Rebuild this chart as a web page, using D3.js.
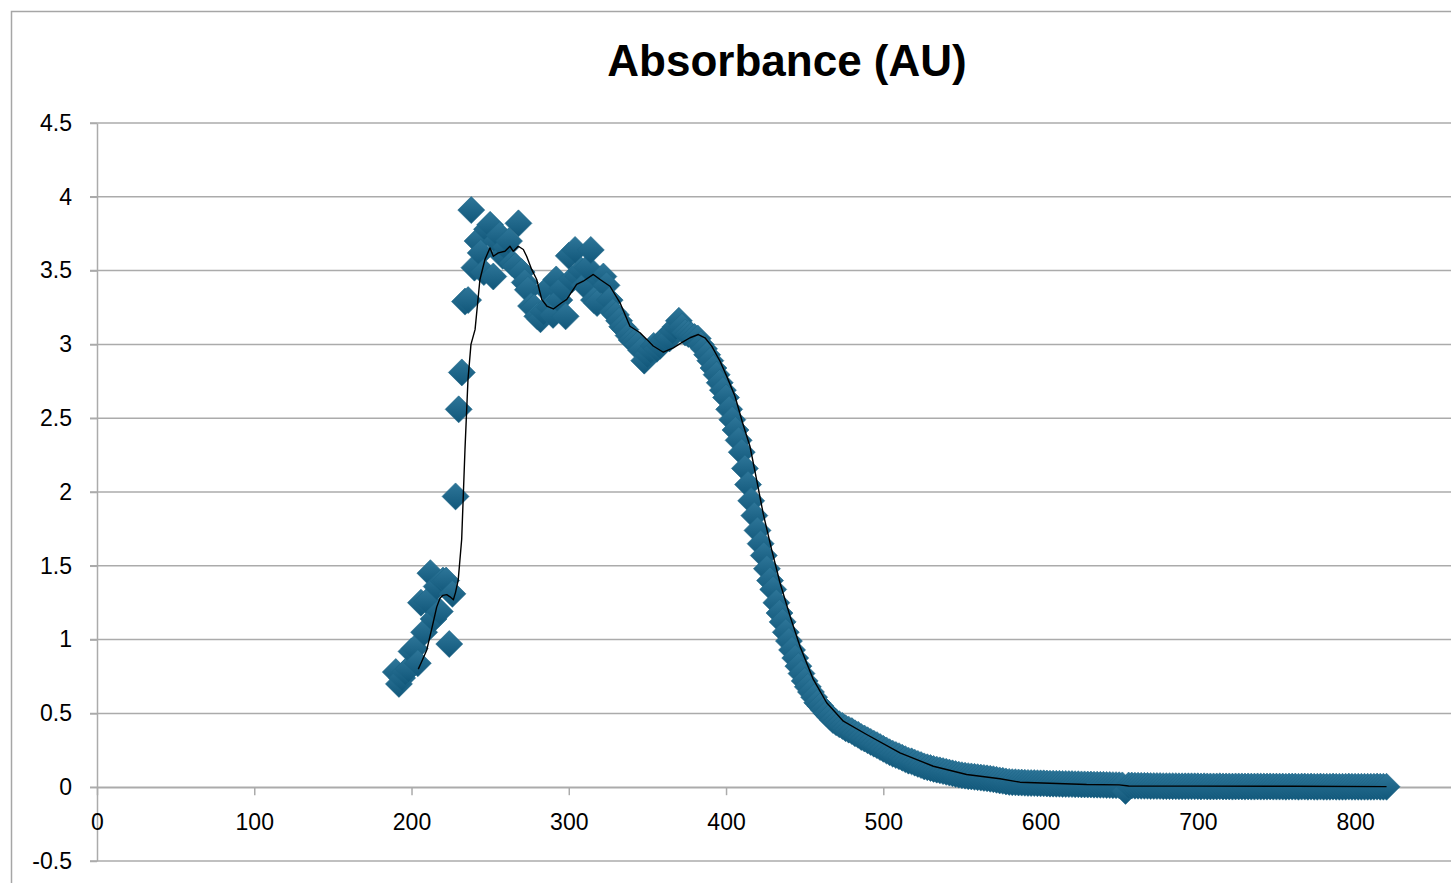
<!doctype html>
<html lang="en">
<head>
  <meta charset="utf-8">
  <title>Absorbance (AU)</title>
  <style>
    body {
      margin: 0;
      background: #fff;
    }

    #chart {
      width: 1451px;
      height: 883px;
      overflow: hidden;
    }

    text {
      font-family: "Liberation Sans", Arial, sans-serif;
    }

    .grid line {
      stroke: #ababab;
      stroke-width: 1.5;
    }

    .axis path,
    .axis line {
      stroke: #ababab;
      stroke-width: 1.5;
    }

    .axis text {
      font-size: 23px;
      fill: #000;
    }
  </style>
</head>

<body>
  <div id="chart"></div>

  <script src="https://d3js.org/d3.v7.min.js"></script>
  <script>
    // wavelength (nm) of each measured point
    const wavelength = [
      190, 192, 194, 196, 198, 200, 202, 204, 206, 208,
      210, 212, 214, 216, 218, 220, 222, 224, 226, 228,
      230, 232, 234, 236, 238, 240, 242, 244, 246, 248,
      250, 252, 254, 256, 258, 260, 262, 264, 266, 268,
      270, 272, 274, 276, 278, 280, 282, 284, 286, 288,
      290, 292, 294, 296, 298, 300, 302, 304, 306, 308,
      310, 312, 314, 316, 318, 320, 322, 324, 326, 328,
      330, 332, 334, 336, 338, 340, 342, 344, 346, 348,
      350, 352, 354, 356, 358, 360, 362, 364, 366, 368,
      370, 372, 374, 376, 378, 380, 382, 384, 386, 388,
      390, 392, 394, 396, 398, 400, 402, 404, 406, 408,
      410, 412, 414, 416, 418, 420, 422, 424, 426, 428,
      430, 432, 434, 436, 438, 440, 442, 444, 446, 448,
      450, 452, 454, 456, 458, 460, 462, 464, 466, 468,
      470, 472, 474, 476, 478, 480, 482, 484, 486, 488,
      490, 492, 494, 496, 498, 500, 502, 504, 506, 508,
      510, 512, 514, 516, 518, 520, 522, 524, 526, 528,
      530, 532, 534, 536, 538, 540, 542, 544, 546, 548,
      550, 552, 554, 556, 558, 560, 562, 564, 566, 568,
      570, 572, 574, 576, 578, 580, 582, 584, 586, 588,
      590, 592, 594, 596, 598, 600, 602, 604, 606, 608,
      610, 612, 614, 616, 618, 620, 622, 624, 626, 628,
      630, 632, 634, 636, 638, 640, 642, 644, 646, 648,
      650, 652, 654, 656, 658, 660, 662, 664, 666, 668,
      670, 672, 674, 676, 678, 680, 682, 684, 686, 688,
      690, 692, 694, 696, 698, 700, 702, 704, 706, 708,
      710, 712, 714, 716, 718, 720, 722, 724, 726, 728,
      730, 732, 734, 736, 738, 740, 742, 744, 746, 748,
      750, 752, 754, 756, 758, 760, 762, 764, 766, 768,
      770, 772, 774, 776, 778, 780, 782, 784, 786, 788,
      790, 792, 794, 796, 798, 800, 802, 804, 806, 808,
      810, 812, 814, 816, 818, 820
    ];

    // absorbance (AU)
    const absorbance = [
      0.78, 0.70, 0.74, 0.78, 0.80, 0.92, 0.94, 0.84, 1.25, 1.05,
      1.26, 1.45, 1.14, 1.36, 1.19, 1.40, 1.40, 0.97, 1.31, 1.97,
      2.56, 2.81, 3.29, 3.30, 3.91, 3.52, 3.70, 3.62, 3.49, 3.78,
      3.81, 3.46, 3.70, 3.74, 3.60, 3.66, 3.70, 3.55, 3.53, 3.82,
      3.49, 3.42, 3.37, 3.26, 3.25, 3.19, 3.17, 3.22, 3.37, 3.25,
      3.20, 3.44, 3.30, 3.38, 3.19, 3.60, 3.44, 3.64, 3.46, 3.50,
      3.40, 3.52, 3.64, 3.30, 3.28, 3.44, 3.46, 3.40, 3.30, 3.22,
      3.20, 3.16, 3.12, 3.10, 3.06, 3.03, 3.02, 3.00, 2.96, 2.89,
      2.93, 2.96, 2.99, 2.97, 2.99, 3.03, 3.05, 3.04, 3.09, 3.12,
      3.16, 3.12, 3.08, 3.07, 3.06, 3.05, 3.04, 3.00, 2.97, 2.93,
      2.89, 2.84, 2.795, 2.74, 2.69, 2.64, 2.56, 2.49, 2.42, 2.35,
      2.27, 2.16, 2.05, 1.94, 1.84, 1.74, 1.65, 1.57, 1.48, 1.40,
      1.34, 1.25, 1.18, 1.12, 1.05, 0.99, 0.93, 0.875, 0.82, 0.77,
      0.72, 0.68, 0.645, 0.61, 0.572, 0.55, 0.525, 0.50, 0.478, 0.455,
      0.44, 0.427, 0.415, 0.40, 0.39, 0.38, 0.365, 0.355, 0.34, 0.33,
      0.318, 0.307, 0.295, 0.285, 0.272, 0.26, 0.249, 0.237, 0.227, 0.218,
      0.21, 0.20, 0.19, 0.18, 0.175, 0.166, 0.158, 0.15, 0.141, 0.135,
      0.13, 0.124, 0.119, 0.114, 0.109, 0.104, 0.099, 0.094, 0.089, 0.085,
      0.081, 0.078, 0.075, 0.073, 0.07, 0.068, 0.065, 0.063, 0.06, 0.057,
      0.054, 0.05, 0.046, 0.043, 0.039, 0.036, 0.034, 0.033, 0.032, 0.031,
      0.030, 0.029, 0.028, 0.028, 0.027, 0.026, 0.026, 0.025, 0.024, 0.024,
      0.023, 0.023, 0.022, 0.022, 0.021, 0.021, 0.020, 0.020, 0.019, 0.019,
      0.018, 0.018, 0.017, 0.017, 0.016, 0.016, 0.015, 0.015, 0.014, 0.014,
      0.013, 0.012, -0.025, 0.011, 0.011, 0.010, 0.010, 0.009, 0.009, 0.009,
      0.008, 0.008, 0.008, 0.008, 0.007, 0.007, 0.007, 0.007, 0.007, 0.006,
      0.006, 0.006, 0.006, 0.006, 0.006, 0.006, 0.005, 0.006, 0.005, 0.005,
      0.005, 0.005, 0.006, 0.005, 0.005, 0.005, 0.004, 0.005, 0.005, 0.005,
      0.004, 0.005, 0.004, 0.004, 0.005, 0.004, 0.004, 0.004, 0.005, 0.004,
      0.004, 0.004, 0.004, 0.003, 0.004, 0.004, 0.004, 0.003, 0.004, 0.004,
      0.003, 0.004, 0.003, 0.003, 0.004, 0.003, 0.003, 0.003, 0.004, 0.003,
      0.003, 0.003, 0.003, 0.004, 0.003, 0.003, 0.003, 0.003, 0.003, 0.003,
      0.003, 0.003, 0.004, 0.003, 0.003, 0.003
    ];

    // moving average trendline (black line)
    const trendWavelength = [
      204.3, 206, 209.7, 213, 216, 218.1, 220, 222.4, 224.5, 226.6,
      228, 229.7, 231.9, 234, 235.9, 237.8, 240.4, 243.5, 246.7, 249.9,
      252, 255.2, 259.4, 262.6, 264.7, 267.9, 271.1, 273.2, 276.4, 279.6,
      282.8, 286, 290.2, 295.5, 298.7, 305, 309.2, 315.6, 319.9, 326.2,
      332.6, 338.9, 345.3, 349.6, 353.7, 360.1, 366.5, 371.8, 377.1, 382.4,
      386.6, 390.9, 396.2, 400.4, 405.7, 410.5, 415.2, 419.5, 423.7, 429,
      434.3, 440.7, 447, 455.5, 464, 474.6, 489.4, 510.6, 531.8, 553,
      574.2, 586.9, 629.3, 650, 656, 700, 760, 820
    ];
    const trendAbsorbance = [
      0.80, 0.84, 0.93, 1.08, 1.22, 1.28, 1.30, 1.305, 1.29, 1.27,
      1.32, 1.405, 1.68, 2.29, 2.76, 3.00, 3.10, 3.44, 3.575, 3.654,
      3.597, 3.62, 3.631, 3.665, 3.631, 3.665, 3.643, 3.597, 3.508, 3.44,
      3.305, 3.26, 3.24, 3.282, 3.305, 3.406, 3.428, 3.474, 3.44, 3.394,
      3.282, 3.123, 3.079, 3.034, 2.989, 2.947, 2.977, 3.012, 3.045, 3.067,
      3.045, 2.988, 2.886, 2.785, 2.649, 2.469, 2.31, 2.08, 1.85, 1.61,
      1.385, 1.159, 0.955, 0.73, 0.572, 0.447, 0.357, 0.233, 0.142, 0.086,
      0.057, 0.034, 0.018, 0.016, 0.008, 0.007, 0.006, 0.004
    ];

    const xTicks = [0, 100, 200, 300, 400, 500, 600, 700, 800];
    const yTicks = [-0.5, 0, 0.5, 1, 1.5, 2, 2.5, 3, 3.5, 4, 4.5];

    const width = 1451;
    const height = 883;

    const svg = d3.select('#chart')
      .append('svg')
      .attr('width', width)
      .attr('height', height);

    // marker gradient, slightly lighter on top
    const grad = svg.append('defs').append('linearGradient')
      .attr('id', 'markerFill')
      .attr('x1', 0).attr('y1', 0).attr('x2', 0).attr('y2', 1);
    grad.append('stop').attr('offset', '0%').attr('stop-color', '#2e7699');
    grad.append('stop').attr('offset', '100%').attr('stop-color', '#11577a');

    // chart area border (runs off the right and bottom edge)
    svg.append('rect')
      .attr('x', 11.5)
      .attr('y', 11.5)
      .attr('width', 1700)
      .attr('height', 1000)
      .attr('fill', 'none')
      .attr('stroke', '#a6a6a6')
      .attr('stroke-width', 1.5);

    // scales: axis goes to 900, past the window edge
    const x = d3.scaleLinear().domain([0, 900]).range([97, 97 + 9 * 157.26]);
    const y = d3.scaleLinear().domain([-0.5, 4.5]).range([861, 123]);

    // horizontal gridlines
    svg.append('g')
      .attr('class', 'grid')
      .selectAll('line')
      .data(yTicks)
      .join('line')
      .attr('x1', 90)
      .attr('x2', x(900))
      .attr('y1', d => y(d))
      .attr('y2', d => y(d));

    // y axis, plain hyphen for the minus sign
    svg.append('g')
      .attr('class', 'axis')
      .attr('transform', `translate(${x(0)},0)`)
      .call(d3.axisLeft(y).tickValues(yTicks).tickSize(7).tickSizeOuter(0).tickPadding(18)
        .tickFormat(d => String(d)));

    // x axis crossing at zero
    svg.append('g')
      .attr('class', 'axis')
      .attr('transform', `translate(0,${y(0)})`)
      .call(d3.axisBottom(x).tickValues(xTicks.concat([900])).tickSize(8).tickSizeOuter(0).tickPadding(18)
        .tickFormat(d => d === 900 ? '' : String(d)));

    // diamond markers
    const r = 13.5;
    const diamond = `M0,${-r}L${r},0L0,${r}L${-r},0Z`;

    svg.append('g')
      .selectAll('path')
      .data(wavelength.map((w, i) => [w, absorbance[i]]))
      .join('path')
      .attr('d', diamond)
      .attr('transform', d => `translate(${x(d[0])},${y(d[1])})`)
      .attr('fill', 'url(#markerFill)')
      .attr('stroke', '#1d6486')
      .attr('stroke-width', 0.6);

    // trendline
    const line = d3.line()
      .x(d => x(d[0]))
      .y(d => y(d[1]));

    svg.append('path')
      .datum(trendWavelength.map((w, i) => [w, trendAbsorbance[i]]))
      .attr('d', line)
      .attr('fill', 'none')
      .attr('stroke', '#000')
      .attr('stroke-width', 1.4)
      .attr('stroke-linejoin', 'round');

    // title
    svg.append('text')
      .attr('x', 787)
      .attr('y', 76)
      .attr('text-anchor', 'middle')
      .style('font-size', '44px')
      .style('font-weight', 'bold')
      .text('Absorbance (AU)');
  </script>
</body>

</html>
